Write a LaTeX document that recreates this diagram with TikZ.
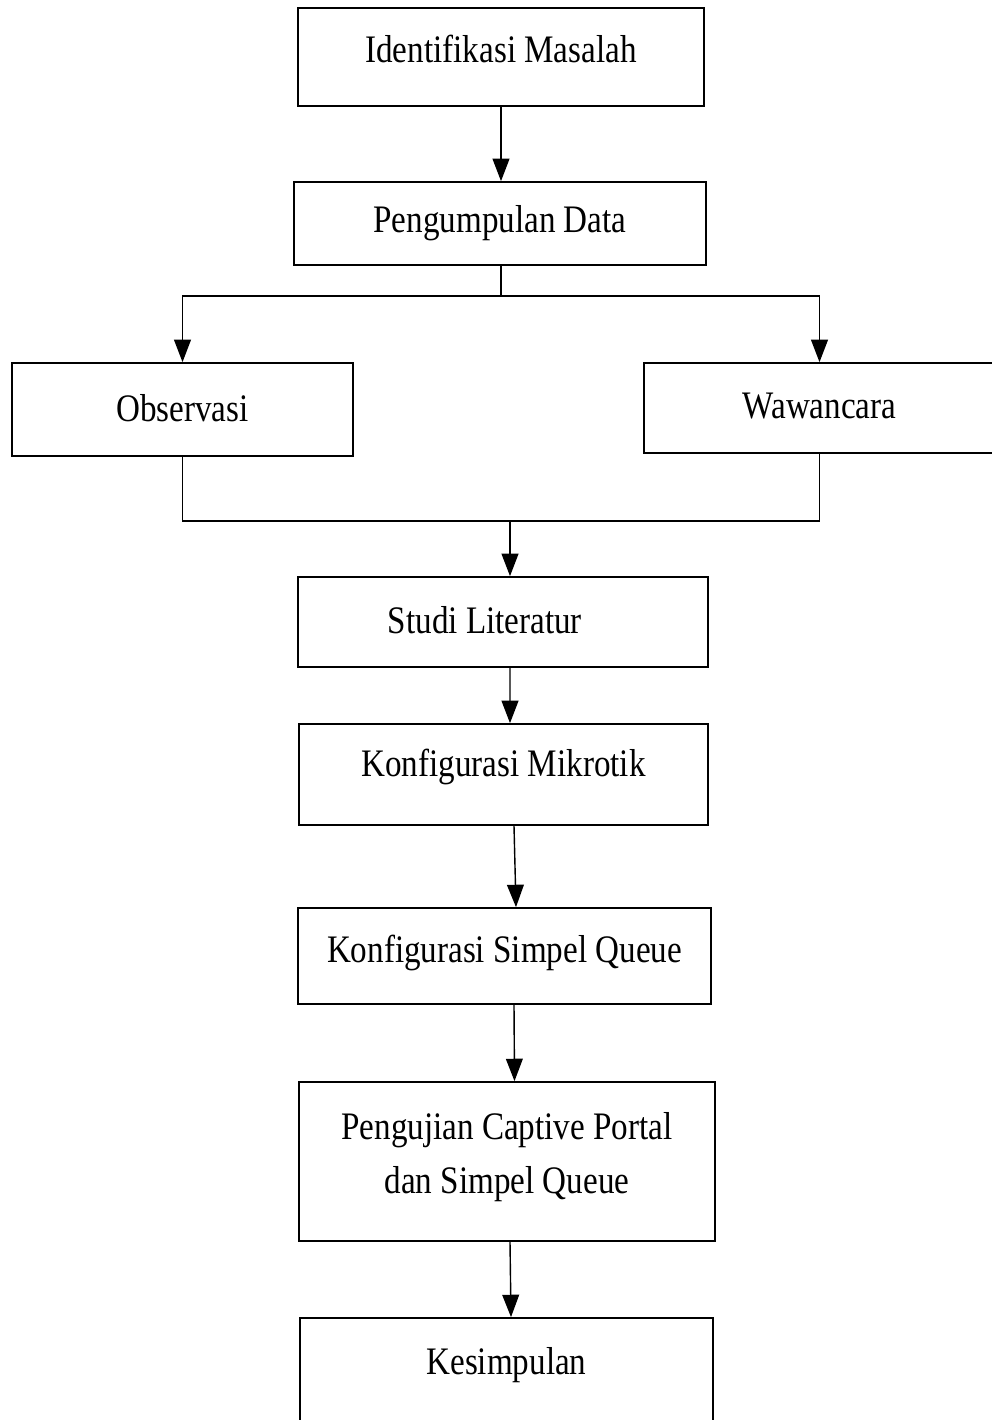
\documentclass[tikz,border=0pt]{standalone}
\usepackage{fontspec}
\setmainfont{Liberation Serif}[FakeStretch=0.85]
\usepackage{tikz}
\usetikzlibrary{arrows.meta, calc}

\tikzset{
    stepbox/.style={draw, line width=1.2pt, inner sep=0pt, align=center,
        font=\fontsize{27.7}{38.5}\selectfont},
    flow/.style={line width=1pt},
    arr/.style={flow, -{Triangle[length=0.56cm, width=0.42cm]}}
}

\begin{document}
\begin{tikzpicture}[x=0.025cm, y=-0.025cm]
    \useasboundingbox (0,0) rectangle (992,1420);

    % Boxes
    \node[stepbox, minimum width=10.15cm, minimum height=2.45cm, text depth=0.4cm] (ident) at (501,57) {Identifikasi Masalah};
    \node[stepbox, minimum width=10.3cm, minimum height=2.075cm] (kumpul) at (500,223.5) {Pengumpulan Data};
    \node[stepbox, minimum width=8.525cm, minimum height=2.325cm, text depth=0.1cm] (obs) at (182.5,409.5) {Observasi};
    \node[stepbox, minimum width=8.775cm, minimum height=2.25cm, text depth=0.1cm] (waw) at (819.5,408) {Wawancara};
    \node[stepbox, minimum width=10.25cm, minimum height=2.25cm, text depth=0.1cm] (studi) at (503,622) {Studi Literatur\hspace*{0.9cm}};
    \node[stepbox, minimum width=10.225cm, minimum height=2.525cm, text depth=0.565cm] (mikro) at (503.5,774.5) {Konfigurasi Mikrotik};
    \node[stepbox, minimum width=10.325cm, minimum height=2.4cm, text depth=0.365cm] (queue) at (504.5,956) {Konfigurasi Simpel Queue};
    \node[stepbox, minimum width=10.4cm, minimum height=3.975cm, text depth=0.41cm] (uji) at (507,1161.5) {Pengujian Captive Portal\\dan Simpel Queue};
    \node[stepbox, minimum width=10.325cm, minimum height=2.675cm, text depth=0.515cm] (simpul) at (506.5,1371.5) {Kesimpulan};

    % Split and merge points
    \coordinate (split) at (501,296);
    \coordinate (merge) at (510,521);

    % Arrows
    \draw[arr] (ident.south) -- (ident.south |- kumpul.north);
    \draw[flow] (kumpul.south -| split) -- (split);
    \draw[arr] (split) -| (obs.north);
    \draw[arr] (split) -| (waw.north);
    \draw[flow] (obs.south) |- (merge) -| (waw.south);
    \draw[arr] (merge) -- (merge |- studi.north);
    \draw[arr] ($(studi.south)+(7,0)$) -- ($(mikro.north)+(6.5,0)$);
    \draw[arr] ($(mikro.south)+(10.5,0)$) -- ($(queue.north)+(11.5,0)$);
    \draw[arr] ($(queue.south)+(9.5,0)$) -- ($(uji.north)+(7.5,0)$);
    \draw[arr] ($(uji.south)+(3,0)$) -- ($(simpul.north)+(4.5,0)$);

\end{tikzpicture}
\end{document}
